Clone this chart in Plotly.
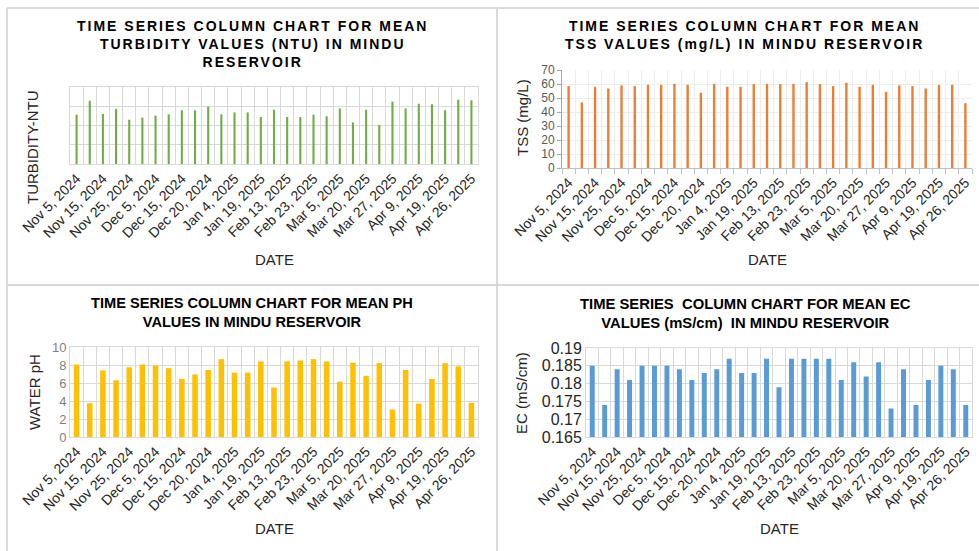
import plotly.graph_objects as go

W, H = 979, 551

dates = ["Nov 5, 2024", "Nov 10, 2024", "Nov 15, 2024", "Nov 20, 2024", "Nov 25, 2024",
         "Nov 30, 2024", "Dec 5, 2024", "Dec 10, 2024", "Dec 15, 2024", "Dec 17, 2024",
         "Dec 20, 2024", "Dec 27, 2024", "Jan 4, 2025", "Jan 11, 2025", "Jan 19, 2025",
         "Jan 29, 2025", "Feb 13, 2025", "Feb 18, 2025", "Feb 23, 2025", "Feb 28, 2025",
         "Mar 5, 2025", "Mar 12, 2025", "Mar 20, 2025", "Mar 24, 2025", "Mar 27, 2025",
         "Apr 2, 2025", "Apr 9, 2025", "Apr 14, 2025", "Apr 19, 2025", "Apr 22, 2025",
         "Apr 26, 2025"]
tick_labels = dates[::2]

turbidity = [25.6, 32.9, 26.0, 28.6, 23.0, 24.1, 25.1, 25.8, 27.9, 27.9, 29.8, 25.8, 26.8,
             26.8, 24.4, 28.2, 24.4, 24.4, 25.6, 24.8, 28.9, 21.6, 28.2, 20.3, 32.4, 28.9,
             31.3, 31.0, 27.9, 33.4, 33.1]
tss = [58.5, 46.8, 58.0, 56.8, 59.0, 58.5, 59.4, 59.4, 60.1, 59.4, 53.7, 59.9, 58.0, 58.0,
       59.9, 60.1, 59.9, 60.1, 61.3, 59.9, 58.5, 60.9, 58.0, 59.4, 54.4, 59.0, 58.5, 56.8,
       59.4, 59.4, 46.3]
ph = [8.05, 3.75, 7.4, 6.3, 7.75, 8.05, 7.95, 7.65, 6.45, 6.95, 7.45, 8.65, 7.15, 7.15, 8.4,
      5.5, 8.4, 8.5, 8.65, 8.4, 6.15, 8.25, 6.8, 8.2, 3.05, 7.45, 3.7, 6.45, 8.2, 7.85, 3.8]
ec = [0.185, 0.174, 0.184, 0.181, 0.185, 0.185, 0.185, 0.184, 0.181, 0.183, 0.184, 0.187,
      0.183, 0.183, 0.187, 0.179, 0.187, 0.187, 0.187, 0.187, 0.181, 0.186, 0.182, 0.186,
      0.173, 0.184, 0.174, 0.181, 0.185, 0.184, 0.174]

idx = list(range(len(dates)))


def px(x):
    return x / W


def py(y):
    return 1 - y / H


GRID = "#D9D9D9"
FONT = "Liberation Sans, Arial, sans-serif"

fig = go.Figure()
layout = dict(
    width=W, height=H, margin=dict(l=0, r=0, t=0, b=0, autoexpand=False),
    paper_bgcolor="white", plot_bgcolor="white", showlegend=False,
    font=dict(family=FONT, color="#404040"),
)

panels = [
    dict(vals=turbidity, color="#70AD47", bw=0.16, box=(70, 478, 87, 164), yr=[0, 40], dt=10,
         showy=False, yfs=13, ycol="#595959", style="box"),
    dict(vals=tss, color="#ED7D31", bw=0.18, box=(562, 972, 70, 168), yr=[0, 70], dt=10,
         showy=True, yfs=12, ycol="#595959", style="axis"),
    dict(vals=ph, color="#FFC000", bw=0.42, box=(70, 478, 347, 437), yr=[0, 10], dt=2,
         showy=True, yfs=13, ycol="#7F7F7F", style="box"),
    dict(vals=ec, color="#5B9BD5", bw=0.4, box=(586, 972, 348, 437), yr=[0.165, 0.19],
         dt=0.005, showy=True, yfs=16, ycol="#262626", style="box"),
]

for i, p in enumerate(panels, start=1):
    xa = "x" if i == 1 else f"x{i}"
    ya = "y" if i == 1 else f"y{i}"
    fig.add_trace(go.Bar(x=idx, y=p["vals"], marker=dict(color=p["color"], line=dict(width=0)),
                         width=p["bw"], xaxis=xa, yaxis=ya, hoverinfo="y"))
    x0, x1, y0, y1 = p["box"]
    boundaries = [k - 0.5 for k in range(len(dates) + 1)]
    xaxis = dict(
        domain=[px(x0), px(x1)], anchor=ya, range=[-0.5, len(dates) - 0.5], automargin=False,
        tickmode="array", tickvals=idx[::2], ticktext=tick_labels, tickangle=-45,
        tickfont=dict(family=FONT, size=14, color="#262626"), showgrid=False, zeroline=False,
        minor=dict(tickmode="array", tickvals=boundaries, showgrid=True, gridcolor=GRID,
                   gridwidth=1),
        ticks="", showline=True, linecolor=GRID, linewidth=1,
        mirror=(p["style"] == "box"),
    )
    yaxis = dict(
        domain=[py(y1), py(y0)], anchor=xa, range=p["yr"], dtick=p["dt"], tick0=p["yr"][0],
        automargin=False,
        showgrid=True, gridcolor=GRID, gridwidth=1, zeroline=False,
        showticklabels=p["showy"], tickfont=dict(family=FONT, size=p["yfs"], color=p["ycol"]),
        showline=True, linecolor=GRID, linewidth=1, mirror=(p["style"] == "box"),
        ticks="", ticklen=0,
    )
    if p["style"] == "axis":
        xaxis["linecolor"] = "#BFBFBF"
        xaxis["minor"].update(ticks="outside", ticklen=5, tickcolor="#BFBFBF")
        xaxis["minor"]["gridcolor"] = "#EDEDED"
        yaxis["gridcolor"] = "#EDEDED"
        yaxis["linecolor"] = "#A6A6A6"
        yaxis["ticks"] = "outside"
        yaxis["ticklen"] = 4
        yaxis["tickcolor"] = "#A6A6A6"
    if i == 4:
        yaxis["tickformat"] = ".3~f"
    layout["xaxis" if i == 1 else f"xaxis{i}"] = xaxis
    layout["yaxis" if i == 1 else f"yaxis{i}"] = yaxis

annotations = []
WIDE = '<span style="letter-spacing:2px">'
annotations.append(dict(
    text="<b>" + WIDE + "TIME SERIES COLUMN CHART FOR MEAN</span><br>" + WIDE +
         "TURBIDITY VALUES (NTU) IN MINDU</span><br>" + WIDE + "RESERVOIR</span></b>",
    x=px(252), y=py(44), font=dict(family=FONT, size=14, color="#000000")))
annotations.append(dict(
    text="<b>" + WIDE + "TIME SERIES COLUMN CHART FOR MEAN</span><br>" + WIDE +
         "TSS VALUES (mg/L) IN MINDU RESERVOIR</span></b>",
    x=px(744), y=py(35.5), font=dict(family=FONT, size=14, color="#000000")))
annotations.append(dict(
    text="<b>TIME SERIES COLUMN CHART FOR MEAN PH<br>VALUES IN MINDU RESERVOIR</b>",
    x=px(252), y=py(312.5), font=dict(family=FONT, size=14.6, color="#000000")))
annotations.append(dict(
    text="<b>TIME SERIES&nbsp; COLUMN CHART FOR MEAN EC<br>VALUES (mS/cm)&nbsp; IN MINDU RESERVOIR</b>",
    x=px(745), y=py(313.5), font=dict(family=FONT, size=14.8, color="#000000")))

ytitles = [("TURBIDITY-NTU", 33, 147), ("TSS (mg/L)", 522, 118), ("WATER pH", 34, 392),
           ("EC (mS/cm)", 522, 393)]
for t, x, y in ytitles:
    annotations.append(dict(text=t, x=px(x), y=py(y), textangle=-90,
                            font=dict(family=FONT, size=15, color="#262626")))
for x, y in [(274, 259), (767, 259), (274, 528), (779, 528)]:
    annotations.append(dict(text="DATE", x=px(x), y=py(y),
                            font=dict(family=FONT, size=15, color="#262626")))

for a in annotations:
    a.update(xref="paper", yref="paper", showarrow=False, xanchor="center", yanchor="middle")
layout["annotations"] = annotations

line = dict(color="#D9D9D9", width=2)
layout["shapes"] = [
    dict(type="line", xref="paper", yref="paper", x0=px(7), x1=1, y0=py(8), y1=py(8), line=line),
    dict(type="line", xref="paper", yref="paper", x0=px(7), x1=px(7), y0=py(8), y1=0, line=line),
    dict(type="line", xref="paper", yref="paper", x0=px(497), x1=px(497), y0=py(8), y1=0, line=line),
    dict(type="line", xref="paper", yref="paper", x0=px(7), x1=1, y0=py(285), y1=py(285), line=line),
]

fig.update_layout(**layout)
fig.write_html("out.html", config={"displayModeBar": False},
               post_script="document.body.style.margin='0';")
